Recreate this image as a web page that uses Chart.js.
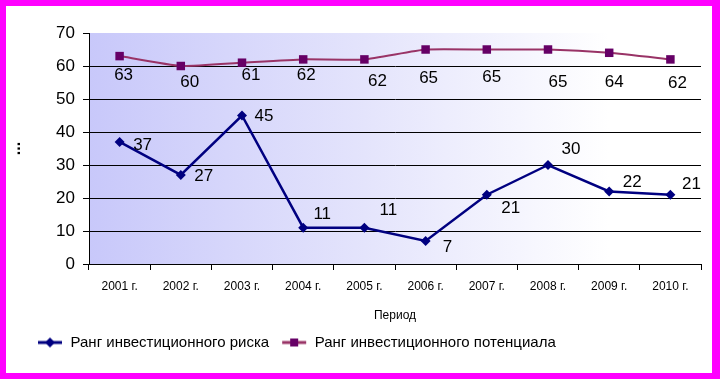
<!DOCTYPE html>
<html>
<head>
<meta charset="utf-8">
<script src="https://cdn.jsdelivr.net/npm/chart.js@4.4.0/dist/chart.umd.min.js"></script>
<style>
body{margin:0;background:#fff;}
#wrap{position:relative;width:706px;height:367px;border-style:solid;border-color:#ff00ff;border-width:6px 8px 6px 6px;background:#fff;}
</style>
</head>
<body>
<div id="wrap"><canvas id="c"></canvas></div>
<script>
const years=['2001 г.','2002 г.','2003 г.','2004 г.','2005 г.','2006 г.','2007 г.','2008 г.','2009 г.','2010 г.'];
const riskRank=[37,27,45,11,11,7,21,30,22,21];
const potentialRank=[63,60,61,62,62,65,65,65,64,62];
const riskName='Ранг инвестиционного риска';
const potentialName='Ранг инвестиционного потенциала';

const ARIAL='"Liberation Sans",Arial,sans-serif';

/* значки легенды: линия с маркером */
function legendIcon(lineColor,markColor,diamond){
  const cv=document.createElement('canvas');cv.width=26;cv.height=12;
  const g=cv.getContext('2d');
  g.strokeStyle=lineColor;g.lineWidth=3;
  g.beginPath();g.moveTo(1,6);g.lineTo(25,6);g.stroke();
  g.fillStyle=markColor;g.beginPath();
  if(diamond){g.moveTo(13,1);g.lineTo(18,6);g.lineTo(13,11);g.lineTo(8,6);g.closePath();g.fill();}
  else{g.fillRect(9,2,8,8);}
  return cv;
}
const riskIcon=legendIcon('#000080','#000080',true);
const potIcon=legendIcon('#993366','#660066',false);

/* фон области построения */
const bgPlugin={
  id:'plotBg',
  beforeDraw(c){
    const a=c.chartArea,g=c.ctx;
    const gr=g.createLinearGradient(a.left,0,a.right,0);
    gr.addColorStop(0,'#c8c8fa');
    gr.addColorStop(0.45,'#e4e4fc');
    gr.addColorStop(0.85,'#ffffff');
    gr.addColorStop(1,'#ffffff');
    g.save();g.fillStyle=gr;g.fillRect(a.left,a.top,a.right-a.left,a.bottom-a.top);g.restore();
  },
  afterLayout(c){
    // легенда в оригинале смещена влево
    if(c.legend){c.legend.left+=19;}
  }
};

/* подписи значений */
const labelPlugin={
  id:'valueLabels',
  afterDatasetsDraw(c,args,opts){
    const g=c.ctx;
    g.save();
    g.font='17px '+ARIAL;g.fillStyle='#000';g.textAlign='center';g.textBaseline='middle';
    c.data.datasets.forEach((ds,di)=>{
      const meta=c.getDatasetMeta(di);
      const sh=opts.shift[di];
      meta.data.forEach((pt,i)=>{
        g.fillText(String(ds.data[i]),pt.x+sh[i][0],pt.y+sh[i][1]);
      });
    });
    g.restore();
  }
};

new Chart(document.getElementById('c'),{
  type:'line',
  data:{
    labels:years,
    datasets:[
      {label:riskName,data:riskRank,borderColor:'#000080',backgroundColor:'#000080',borderWidth:2.5,
       pointStyle:'rectRot',pointRadius:5,pointBorderWidth:0,tension:0},
      {label:potentialName,data:potentialRank,borderColor:'#993366',backgroundColor:'#660066',borderWidth:2,
       pointStyle:'rect',pointRadius:6,pointBorderWidth:0,tension:0.15}
    ]
  },
  options:{
    responsive:true,maintainAspectRatio:false,animation:false,
    layout:{padding:{top:27,right:11,bottom:13,left:0}},
    plugins:{
      legend:{
        position:'bottom',align:'start',
        labels:{
          font:{family:ARIAL,size:15},color:'#000',padding:12,
          usePointStyle:true,pointStyleWidth:26,boxHeight:12,
          generateLabels:()=>[
            {text:riskName,pointStyle:riskIcon,datasetIndex:0,fontColor:'#000',lineWidth:0,strokeStyle:'transparent',fillStyle:'transparent'},
            {text:potentialName,pointStyle:potIcon,datasetIndex:1,fontColor:'#000',lineWidth:0,strokeStyle:'transparent',fillStyle:'transparent'}
          ]
        }
      },
      tooltip:{enabled:false},
      valueLabels:{
        shift:[
          [[23,3],[23,1],[22,1],[19,-13],[24,-17],[22,6],[24,14],[23,-16],[23,-9],[21,-10]],
          [[4,19],[9,16],[9,13],[3,16],[13,22],[3,29],[5,28],[10,33],[5,30],[7,24]]
        ]
      }
    },
    scales:{
      x:{
        offset:true,
        grid:{offset:true,drawOnChartArea:false,drawTicks:true,tickLength:6,color:'#000',tickColor:'#000'},
        border:{color:'#000',width:1},
        ticks:{font:{family:ARIAL,size:12},color:'#000',maxRotation:0,autoSkip:false,padding:9},
        title:{display:true,text:'Период',font:{family:ARIAL,size:12},color:'#000',padding:{top:8,bottom:0}},
        afterFit(s){s.height=59;}
      },
      y:{
        min:0,max:70,
        grid:{color:ctx=>ctx.tick&&ctx.tick.value===70?'rgba(0,0,0,0)':'#000',tickColor:'#000',tickLength:6,lineWidth:1},
        border:{color:'#000',width:1},
        ticks:{stepSize:10,font:{family:ARIAL,size:17},color:'#000',padding:8},
        title:{display:true,text:'...',font:{family:ARIAL,size:16,weight:'bold'},color:'#000',padding:{top:0,bottom:20}},
        afterFit(s){s.width=83;}
      }
    }
  },
  plugins:[bgPlugin,labelPlugin]
});
</script>
</body>
</html>
